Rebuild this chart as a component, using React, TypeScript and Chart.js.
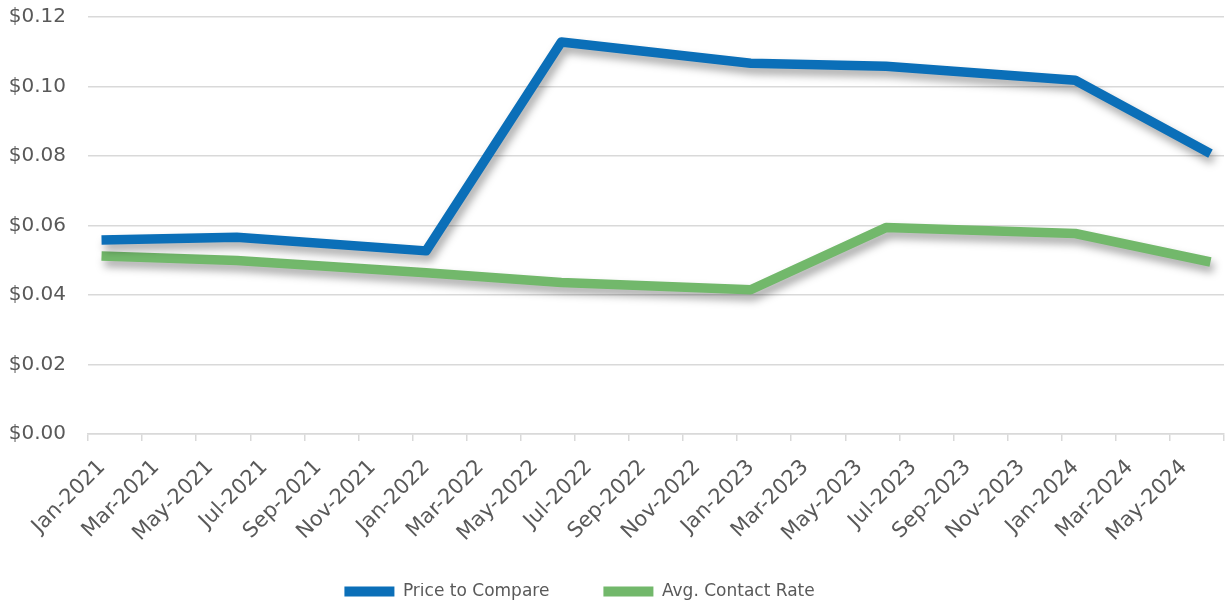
import React, { useEffect, useRef } from "react";
import { Chart, registerables } from "chart.js";

Chart.register(...registerables);

// Data
const pointMonths = ["2021-01", "2021-06", "2022-01", "2022-06", "2023-01", "2023-06", "2024-01", "2024-06"];
const priceToCompare = [0.0558, 0.0566, 0.0527, 0.1128, 0.1067, 0.1058, 0.1018, 0.0807];
const avgContactRate = [0.0512, 0.0499, 0.0464, 0.0436, 0.0415, 0.0594, 0.0577, 0.0495];
const tickLabels = [
  "Jan-2021", "Mar-2021", "May-2021", "Jul-2021", "Sep-2021", "Nov-2021",
  "Jan-2022", "Mar-2022", "May-2022", "Jul-2022", "Sep-2022", "Nov-2022",
  "Jan-2023", "Mar-2023", "May-2023", "Jul-2023", "Sep-2023", "Nov-2023",
  "Jan-2024", "Mar-2024", "May-2024",
];
const yTicks = [0, 0.02, 0.04, 0.06, 0.08, 0.1, 0.12];

const FONT = "'DejaVu Sans', sans-serif";
const TEXT = "#595959";
const GRID = "#d9d9d9";

function monthIndex(s: string) {
  const [y, m] = s.split("-").map(Number);
  return (y - 2021) * 12 + (m - 1) + 0.5; // mid-month
}

const shadowPlugin = {
  id: "lineShadow",
  beforeDatasetDraw(chart: any) {
    const ctx = chart.ctx;
    ctx.save();
    ctx.shadowColor = "rgba(0,0,0,0.35)";
    ctx.shadowBlur = 9;
    ctx.shadowOffsetX = 3;
    ctx.shadowOffsetY = 6;
  },
  afterDatasetDraw(chart: any) {
    chart.ctx.restore();
  },
};

export default function App() {
  const ref = useRef<HTMLCanvasElement>(null);
  useEffect(() => {
    document.body.style.margin = "0";
    const xs = pointMonths.map(monthIndex);
    const chart = new Chart(ref.current!, {
      type: "line",
      data: {
        datasets: [
          {
            label: "Price to Compare",
            data: xs.map((x, i) => ({ x, y: priceToCompare[i] })),
            borderColor: "#0B6FB8",
            backgroundColor: "#0B6FB8",
            borderWidth: 9.5,
            pointRadius: 0,
            borderJoinStyle: "round",
            borderCapStyle: "butt",
            tension: 0,
          },
          {
            label: "Avg. Contact Rate",
            data: xs.map((x, i) => ({ x, y: avgContactRate[i] })),
            borderColor: "#72B86B",
            backgroundColor: "#72B86B",
            borderWidth: 9.5,
            pointRadius: 0,
            borderJoinStyle: "round",
            borderCapStyle: "butt",
            tension: 0,
          },
        ],
      },
      plugins: [shadowPlugin],
      options: {
        animation: false,
        responsive: false,
        maintainAspectRatio: false,
        layout: { padding: { top: 17, right: 1, left: 0, bottom: -6 } },
        plugins: {
          tooltip: { enabled: false },
          legend: {
            position: "bottom",
            labels: {
              boxWidth: 50,
              boxHeight: 10,
              padding: 0,
              color: TEXT,
              font: { family: FONT, size: 17 },
              generateLabels(chart: any) {
                return chart.data.datasets.map((d: any, i: number) => ({
                  text: i === 0 ? d.label + "          " : d.label + "            ",
                  fillStyle: d.borderColor,
                  strokeStyle: d.borderColor,
                  lineWidth: 0,
                  datasetIndex: i,
                  fontColor: TEXT,
                }));
              },
            },
          },
        },
        scales: {
          x: {
            type: "linear",
            min: 0,
            max: 42,
            afterBuildTicks(scale: any) {
              const t = [];
              for (let v = 0; v <= 42; v += 2) t.push({ value: v });
              scale.ticks = t;
            },
            afterFit(scale: any) {
              scale.height = 149;
              scale.paddingRight = 0;
              scale.paddingLeft = 0;
              scale.paddingTop = 0;
              scale.paddingBottom = 0;
            },
            ticks: {
              autoSkip: false,
              minRotation: 45,
              maxRotation: 45,
              color: TEXT,
              font: { family: FONT, size: 21 },
              padding: 14,
              labelOffset: 14,
              callback: (v: any) => tickLabels[Math.round(Number(v) / 2)] ?? "",
            },
            grid: {
              drawOnChartArea: false,
              drawTicks: true,
              tickLength: 7,
              color: GRID,
              lineWidth: 1.5,
            },
            border: { display: true, color: GRID, width: 1.5 },
          },
          y: {
            min: 0,
            max: 0.12,
            afterBuildTicks(scale: any) {
              scale.ticks = yTicks.map((v) => ({ value: v }));
            },
            afterFit(scale: any) {
              scale.width = 88;
              scale.paddingTop = 0;
              scale.paddingBottom = 0;
            },
            ticks: {
              color: TEXT,
              font: { family: FONT, size: 20 },
              padding: 22,
              callback: (v: any) => "$" + Number(v).toFixed(2),
            },
            grid: { color: GRID, lineWidth: 1.5, drawTicks: false },
            border: { display: false },
          },
        },
      },
    } as any);
    return () => chart.destroy();
  }, []);
  return (
    <div style={{ position: "absolute", left: 0, top: 0, width: 1225, height: 604 }}>
      <canvas ref={ref} width={1225} height={604} style={{ width: 1225, height: 604 }} />
    </div>
  );
}
